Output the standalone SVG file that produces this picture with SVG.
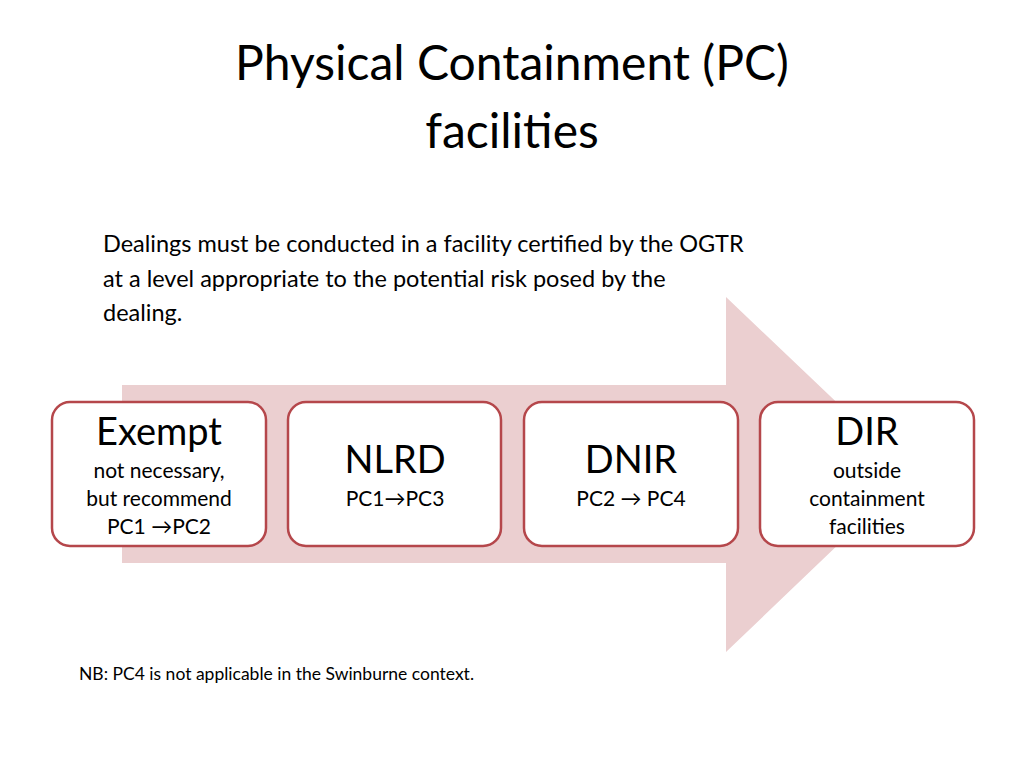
<svg xmlns="http://www.w3.org/2000/svg" width="1024" height="768" viewBox="0 0 1024 768">
<style>
text{font-family:Lato,"Open Sans","Liberation Sans",sans-serif;fill:#000}
.box{fill:#fff;stroke:#B5474B;stroke-width:2.5}
.big{font-size:38px;text-anchor:middle}
.sm{font-size:21px;text-anchor:middle}
</style>
<rect width="1024" height="768" fill="#fff"/>
<text x="512" y="80" font-size="48" text-anchor="middle">Physical Containment (PC)</text>
<text x="512" y="148" font-size="48" text-anchor="middle">facilities</text>
<text font-size="23.5"><tspan x="103" y="252">Dealings must be conducted in a facility certified by the OGTR</tspan><tspan x="103" y="287">at a level appropriate to the potential risk posed by the</tspan><tspan x="103" y="321">dealing.</tspan></text>
<g id="arrow"><polygon points="122,385 726,385 726,297 912,474 726,652 726,563 122,563" fill="#EBCFD0"/></g>
<g id="exempt"><rect class="box" x="52" y="402" width="214" height="144" rx="18"/>
<text class="big" x="159" y="445">Exempt</text><text class="sm" x="159" y="478">not necessary,</text><text class="sm" x="159" y="506">but recommend</text><text class="sm" x="159" y="534">PC1 →PC2</text></g>
<g id="nlrd"><rect class="box" x="288" y="402" width="213" height="144" rx="18"/>
<text class="big" x="395" y="473">NLRD</text><text class="sm" x="395" y="506">PC1→PC3</text></g>
<g id="dnir"><rect class="box" x="524" y="402" width="214" height="144" rx="18"/>
<text class="big" x="631" y="473">DNIR</text><text class="sm" x="631" y="506">PC2 → PC4</text></g>
<g id="dir"><rect class="box" x="760" y="402" width="214" height="144" rx="18"/>
<text class="big" x="867" y="445">DIR</text><text class="sm" x="867" y="478">outside</text><text class="sm" x="867" y="506">containment</text><text class="sm" x="867" y="534">facilities</text></g>
<g id="connectors"/>
<text x="79" y="680" font-size="17.5">NB: PC4 is not applicable in the Swinburne context.</text>
</svg>
